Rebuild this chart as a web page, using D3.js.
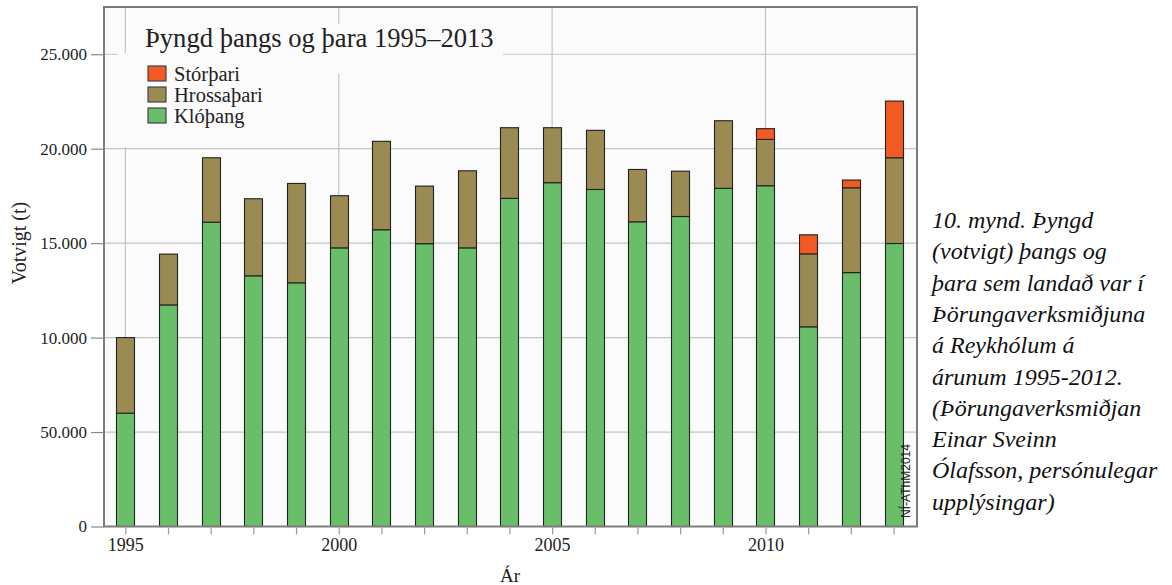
<!DOCTYPE html>
<html>
<head>
<meta charset="utf-8">
<title>Þyngd þangs og þara 1995–2013</title>
<script src="https://cdn.jsdelivr.net/npm/d3@7/dist/d3.min.js"></script>
<style>
	body { margin: 0; background: #fff; }
	svg text { font-family: "Liberation Serif", "Times New Roman", serif; fill: #222; }
	svg text.caption { font-family: "Liberation Serif", serif; font-style: italic; font-size: 24px; fill: #111; }
</style>
</head>
<body>
<svg id="chart" width="1172" height="585"></svg>
<script>
	// data
	var years = d3.range(1995, 2014);
	var klopang = [6000, 11730, 16110, 13270, 12900, 14750, 15710, 14970, 14750, 17370,
		18200, 17840, 16130, 16410, 17900, 18040, 10570, 13440, 14980];
	var hrossathari = [4000, 2690, 3410, 4080, 5260, 2760, 4680, 3050, 4080, 3740,
		2910, 3130, 2770, 2400, 3580, 2450, 3860, 4490, 4540];
	var storthari = [0, 0, 0, 0, 0, 0, 0, 0, 0, 0,
		0, 0, 0, 0, 0, 570, 1010, 410, 3000];
	var seriesNames = ['Klóþang', 'Hrossaþari', 'Stórþari'];
	var seriesColors = ['#69bf69', '#9b8b53', '#f15a22'];
	var yTicks = [0, 5000, 10000, 15000, 20000, 25000];
	var yTickLabels = ['0', '50.000', '10.000', '15.000', '20.000', '25.000'];
	var xTicks = [1995, 2000, 2005, 2010];
	var captionLines = ['10. mynd. Þyngd', '(votvigt) þangs og', 'þara sem landað var í',
		'Þörungaverksmiðjuna', 'á Reykhólum á', 'árunum 1995-2012.', '(Þörungaverksmiðjan',
		'Einar Sveinn', 'Ólafsson, persónulegar', 'upplýsingar)'];

	var rows = years.map(function(y, i) {
		return { year: y, 'Klóþang': klopang[i], 'Hrossaþari': hrossathari[i], 'Stórþari': storthari[i] };
	});

	var plotL = 104, plotR = 917, plotT = 7, plotB = 526.5;
	var svg = d3.select('#chart');

	var x = d3.scaleLinear().domain([1994.5, 2013.55]).range([plotL, plotR]);
	var y = d3.scaleLinear().domain([0, 27500]).range([plotB, plotT]);
	var barW = 18;

	// plot background
	svg.append('rect')
		.attr('x', plotL).attr('y', plotT)
		.attr('width', plotR - plotL).attr('height', plotB - plotT)
		.attr('fill', '#fbfbfb');

	// grid
	svg.append('g').selectAll('line').data(yTicks.slice(1)).enter().append('line')
		.attr('x1', plotL).attr('x2', plotR)
		.attr('y1', function(d) { return y(d); }).attr('y2', function(d) { return y(d); })
		.attr('stroke', '#c4c4c4').attr('stroke-width', 1.2);
	svg.append('g').selectAll('line').data(xTicks).enter().append('line')
		.attr('x1', function(d) { return x(d); }).attr('x2', function(d) { return x(d); })
		.attr('y1', plotT).attr('y2', plotB)
		.attr('stroke', '#c4c4c4').attr('stroke-width', 1.2);

	// legend / title backgrounds hide the grid
	svg.append('rect').attr('x', 142).attr('y', 24).attr('width', 361).attr('height', 50).attr('fill', '#fbfbfb');
	svg.append('rect').attr('x', 118).attr('y', 53).attr('width', 182).attr('height', 94).attr('fill', '#fbfbfb');

	// stacked bars
	var stack = d3.stack().keys(seriesNames);
	var layers = stack(rows);
	svg.append('g').selectAll('g').data(layers).enter().append('g')
		.attr('fill', function(d, i) { return seriesColors[i]; })
		.selectAll('rect')
		.data(function(d) { return d.filter(function(p) { return p[1] > p[0]; }); })
		.enter().append('rect')
		.attr('x', function(d) { return Math.round(x(d.data.year) - barW / 2) + 0.5; })
		.attr('y', function(d) { return y(d[1]); })
		.attr('width', barW)
		.attr('height', function(d) { return y(d[0]) - y(d[1]); })
		.attr('stroke', '#222')
		.attr('stroke-width', 1.1);

	// frame
	svg.append('rect')
		.attr('x', plotL).attr('y', plotT)
		.attr('width', plotR - plotL).attr('height', plotB - plotT)
		.attr('fill', 'none').attr('stroke', '#7c7c7c').attr('stroke-width', 2);

	// y axis
	var yAxis = d3.axisLeft(y).tickValues(yTicks).tickSize(13).tickPadding(4)
		.tickFormat(function(d, i) { return yTickLabels[i]; });
	var gy = svg.append('g').attr('transform', 'translate(' + plotL + ',0)').call(yAxis);
	gy.select('.domain').remove();
	gy.selectAll('line').attr('stroke', '#8a8a8a').attr('stroke-width', 1.2);
	gy.selectAll('text').attr('font-size', 17).attr('font-family', '"Liberation Serif", serif').attr('fill', '#222');

	// x axis
	var xAxis = d3.axisBottom(x).tickValues(years).tickSize(8).tickPadding(4)
		.tickFormat(function(d) { return xTicks.indexOf(d) >= 0 ? d : ''; });
	var gx = svg.append('g').attr('transform', 'translate(0,' + plotB + ')').call(xAxis);
	gx.select('.domain').remove();
	gx.selectAll('line').attr('stroke', '#9a9a9a').attr('stroke-width', 1.2);
	gx.selectAll('text').attr('font-size', 18).attr('font-family', '"Liberation Serif", serif').attr('fill', '#222');

	// axis titles
	svg.append('text').attr('x', 510).attr('y', 582).attr('text-anchor', 'middle')
		.attr('font-size', 19).text('Ár');
	svg.append('text').attr('transform', 'translate(26,243) rotate(-90)')
		.attr('text-anchor', 'middle').attr('font-size', 20).text('Votvigt (t)');

	// chart title
	svg.append('text').attr('x', 145).attr('y', 47).attr('font-size', 26.6).text('Þyngd þangs og þara 1995–2013');

	// legend (top to bottom: Stórþari, Hrossaþari, Klóþang)
	var legendOrder = [2, 1, 0];
	var lg = svg.append('g').selectAll('g').data(legendOrder).enter().append('g')
		.attr('transform', function(d, i) { return 'translate(148,' + (66 + i * 21) + ')'; });
	lg.append('rect').attr('width', 18).attr('height', 15)
		.attr('fill', function(d) { return seriesColors[d]; })
		.attr('stroke', '#444').attr('stroke-width', 1.2);
	lg.append('text').attr('x', 26).attr('y', 14.5).attr('font-size', 20.5)
		.text(function(d) { return seriesNames[d]; });

	// watermark
	svg.append('text').attr('transform', 'translate(910,481) rotate(-90)')
		.attr('text-anchor', 'middle')
		.style('font-family', '"Liberation Sans", Arial, sans-serif')
		.attr('font-size', 12).attr('fill', '#333').text('NÍ-AThM2014');

	// figure caption
	svg.append('g').selectAll('text').data(captionLines).enter().append('text')
		.attr('class', 'caption')
		.attr('x', 932)
		.attr('y', function(d, i) { return 228 + i * 31.3; })
		.text(function(d) { return d; });
</script>
</body>
</html>
